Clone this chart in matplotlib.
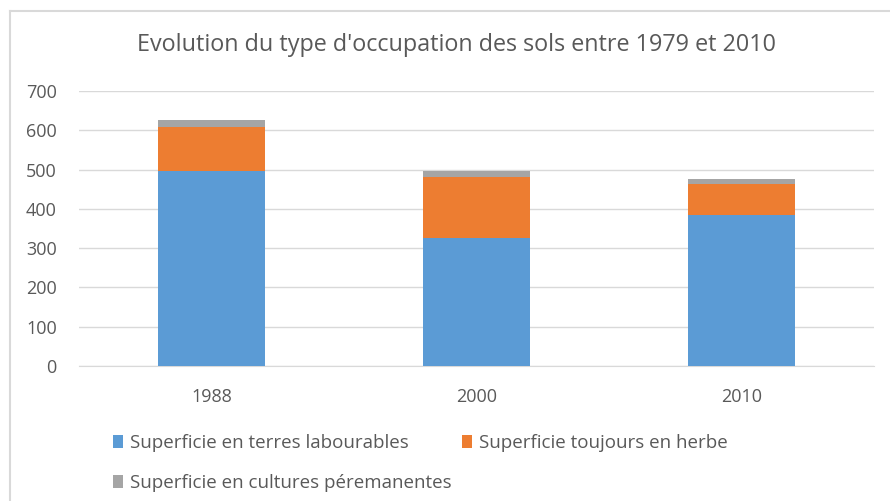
import matplotlib
matplotlib.use("Agg")
import matplotlib.pyplot as plt
from matplotlib.lines import Line2D
from matplotlib.patches import Patch

years = ["1988", "2000", "2010"]
terres_labourables = [496, 327, 384]
toujours_en_herbe = [112, 155, 80]
cultures_permanentes = [17, 14, 13]
series_names = [
    "Superficie en terres labourables",
    "Superficie toujours en herbe",
    "Superficie en cultures péremanentes",
]
colors = ["#5B9BD5", "#ED7D31", "#A5A5A5"]
y_ticks = [0, 100, 200, 300, 400, 500, 600, 700]

plt.rcParams["font.family"] = ["Open Sans", "DejaVu Sans"]
text_color = "#595959"

fig = plt.figure(figsize=(8.9, 5.01), dpi=100)
ax = fig.add_axes([0.0888, 0.2695, 0.893, 0.5489])

x = list(range(len(years)))
width = 0.405
bottom = [0] * len(years)
for vals, col in zip([terres_labourables, toujours_en_herbe, cultures_permanentes], colors):
    ax.bar(x, vals, width, bottom=bottom, color=col, zorder=3)
    bottom = [b + v for b, v in zip(bottom, vals)]

ax.set_xlim(-0.5, len(years) - 0.5)
ax.set_ylim(0, 700)
ax.set_yticks(y_ticks)
ax.set_xticks(x)
ax.set_xticklabels(years)
ax.yaxis.grid(True, color="#D9D9D9", linewidth=1, zorder=0)
for s in ["top", "right", "left"]:
    ax.spines[s].set_visible(False)
ax.spines["bottom"].set_color("#D9D9D9")
ax.tick_params(axis="both", length=0, labelsize=13, colors=text_color)
ax.tick_params(axis="y", pad=16)
ax.tick_params(axis="x", pad=16)

fig.text(0.513, 0.91, "Evolution du type d'occupation des sols entre 1979 et 2010",
         ha="center", va="center", fontsize=16.8, color=text_color)

# legend fills column by column, so order entries to read row by row
order = [0, 2, 1]
handles = [Patch(facecolor=colors[i]) for i in order]
labels = [series_names[i] for i in order]
fig.legend(handles, labels, loc="upper left", bbox_to_anchor=(0.127, 0.133),
           ncol=2, frameon=False, fontsize=13.5, labelcolor=text_color,
           handlelength=0.55, handleheight=0.7, handletextpad=0.35,
           columnspacing=0.55, borderaxespad=0, borderpad=0, labelspacing=1.15)

# chart frame: left and top edges
W, H = 890, 501
fig.add_artist(Line2D([10 / W, 10 / W], [0, 1 - 11 / H], transform=fig.transFigure,
                      color="#D9D9D9", linewidth=1.5))
fig.add_artist(Line2D([10 / W, 1], [1 - 11 / H, 1 - 11 / H], transform=fig.transFigure,
                      color="#D9D9D9", linewidth=1.5))

fig.savefig("out.png", dpi=100)
